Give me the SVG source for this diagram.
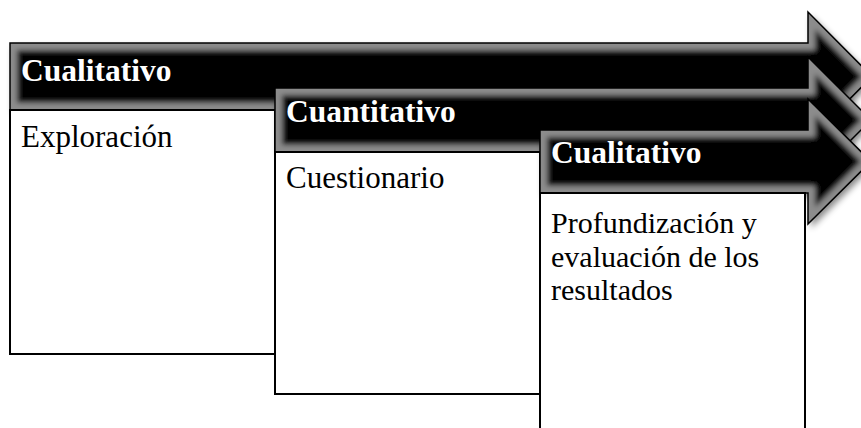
<svg xmlns="http://www.w3.org/2000/svg" xmlns:xlink="http://www.w3.org/1999/xlink" width="861" height="428" viewBox="0 0 861 428">
<style>
.head{font-family:"Liberation Serif","Times New Roman",serif;font-weight:bold;font-size:31.5px;fill:#fff}
.body{font-family:"Liberation Serif","Times New Roman",serif;font-size:31px;fill:#000}
.multi{font-size:30px}
.box{fill:#fff;stroke:#000;stroke-width:2}
.outline{fill:none;stroke:#000;stroke-width:1.5;stroke-linejoin:miter}
.bevel{fill:#000;stroke:#8c8c8c;stroke-width:14}
</style>
<defs>
<filter id="soft" x="-10%" y="-30%" width="120%" height="160%">
<feGaussianBlur stdDeviation="2.6"/>
</filter>
<filter id="shadow" x="-5%" y="-20%" width="115%" height="150%">
<feDropShadow dx="3" dy="4" stdDeviation="3" flood-color="#000" flood-opacity="0.45"/>
</filter>
<polygon id="p1" points="10,43 808,43 808,12 872,76.5 808,141 808,110 10,110"/>
<polygon id="p2" points="275,88 808,88 808,57 871,120 808,183 808,152 275,152"/>
<polygon id="p3" points="540,130 808,130 808,99 871,161.5 808,224 808,193 540,193"/>
<clipPath id="c1"><use xlink:href="#p1"/></clipPath>
<clipPath id="c2"><use xlink:href="#p2"/></clipPath>
<clipPath id="c3"><use xlink:href="#p3"/></clipPath>
</defs>

<g id="stage1">
<use xlink:href="#p1" fill="#000" filter="url(#shadow)"/>
<g clip-path="url(#c1)"><use xlink:href="#p1" class="bevel" filter="url(#soft)"/></g>
<use xlink:href="#p1" class="outline"/>
<text class="head" x="21" y="81">Cualitativo</text>
<rect class="box" x="10" y="110" width="265" height="244"/>
<text class="body" x="21" y="147">Exploración</text>
</g>

<g id="stage2">
<use xlink:href="#p2" fill="#000" filter="url(#shadow)"/>
<g clip-path="url(#c2)"><use xlink:href="#p2" class="bevel" filter="url(#soft)"/></g>
<use xlink:href="#p2" class="outline"/>
<text class="head" x="286" y="122">Cuantitativo</text>
<rect class="box" x="275" y="152" width="265" height="242"/>
<text class="body" x="286" y="188">Cuestionario</text>
</g>

<g id="stage3">
<use xlink:href="#p3" fill="#000" filter="url(#shadow)"/>
<g clip-path="url(#c3)"><use xlink:href="#p3" class="bevel" filter="url(#soft)"/></g>
<use xlink:href="#p3" class="outline"/>
<text class="head" x="551" y="163">Cualitativo</text>
<rect class="box" x="540" y="193" width="265" height="250"/>
<text class="body multi" x="551" y="233">Profundización y</text>
<text class="body multi" x="551" y="266.5">evaluación de los</text>
<text class="body multi" x="551" y="300">resultados</text>
</g>

<g id="connectors"></g>
</svg>
